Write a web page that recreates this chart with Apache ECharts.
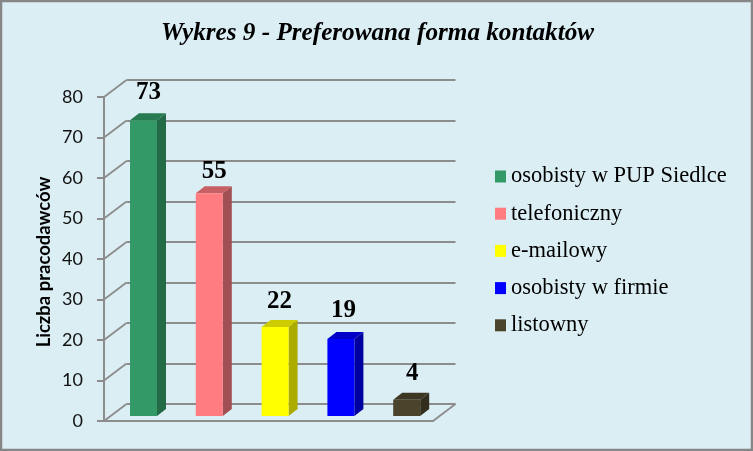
<!DOCTYPE html>
<html><head><meta charset="utf-8">
<style>html,body{margin:0;padding:0;background:#DBEEF4;}#c{width:753px;height:451px;}</style>
<script src="https://cdn.jsdelivr.net/npm/echarts@6/dist/echarts.min.js"></script>
</head><body><div id="c"></div>
<script>
const titleText = 'Wykres 9 - Preferowana forma kontaktów';
const axisName = 'Liczba pracodawców';
const categories = ['osobisty w PUP Siedlce','telefoniczny','e-mailowy','osobisty w firmie','listowny'];
const values = [73,55,22,19,4];
const frontColors = ['#339966','#FF7C80','#FFFF00','#0000FF','#4B432B'];
const sideColors  = ['#236B47','#A14F52','#ABAB00','#0000A0','#322D1C'];
const topColors   = ['#287A50','#C76064','#CCCC00','#0000C8','#3C3622'];
const yTicks = [0,10,20,30,40,50,60,70,80];
const labelShiftX = [2.5,2.5,2,0,3];
const labelShiftY = [-4,2,-1.5,-5,-3];

const GRID = '#8C8C8C';
const FRONT = {left:104, top:97, width:329, height:324};
const WALL = {dx:22.5, dy:-17};
const BAR = {dx:6.6, dy:-5, width:27, sideX:9, sideY:7};

const chart = echarts.init(document.getElementById('c'));

function barSeries(i){
  return {
    type:'custom', name:categories[i], xAxisIndex:0, yAxisIndex:0, z:5,
    itemStyle:{color:frontColors[i]},
    encode:{x:0,y:1},
    data:[[categories[i],values[i]]],
    renderItem(params,api){
      const t = api.coord([api.value(0),api.value(1)]);
      const b = api.coord([api.value(0),0]);
      const x0 = t[0]-BAR.width/2+BAR.dx, x1 = x0+BAR.width;
      const y0 = t[1]+BAR.dy, y1 = b[1]+BAR.dy;
      const sx = BAR.sideX, sy = BAR.sideY;
      return {type:'group',children:[
        {type:'polygon',shape:{points:[[x1,y0],[x1+sx,y0-sy],[x1+sx,y1-sy],[x1,y1]]},style:{fill:sideColors[i]}},
        {type:'polygon',shape:{points:[[x0,y0],[x0+sx,y0-sy],[x1+sx,y0-sy],[x1,y0]]},style:{fill:topColors[i]}},
        {type:'rect',shape:{x:x0,y:y0,width:BAR.width,height:y1-y0},style:{fill:frontColors[i]}},
        {type:'text',style:{x:(x0+x1+sx)/2-2+labelShiftX[i],y:y0-sy-4+labelShiftY[i],text:String(values[i]),align:'center',verticalAlign:'bottom',
          font:'bold 25px "Liberation Serif"',fill:'#000'}}
      ]};
    }
  };
}

const diagonals = {
  type:'custom', silent:true, xAxisIndex:0, yAxisIndex:0, z:2,
  data:yTicks.map(v=>[v]),
  encode:{y:0},
  renderItem(params,api){
    const p = api.coord([categories[0],api.value(0)]);
    const x = FRONT.left;
    return {type:'line',shape:{x1:x,y1:p[1],x2:x+WALL.dx,y2:p[1]+WALL.dy},style:{stroke:GRID,lineWidth:1.8}};
  }
};
const floorRight = {
  type:'custom', silent:true, xAxisIndex:0, yAxisIndex:0, z:2,
  data:[[0]], encode:{y:0},
  renderItem(params,api){
    const p = api.coord([categories[0],api.value(0)]);
    const x = FRONT.left+FRONT.width;
    return {type:'line',shape:{x1:x,y1:p[1],x2:x+WALL.dx,y2:p[1]+WALL.dy},style:{stroke:GRID,lineWidth:1.8}};
  }
};

chart.setOption({
  animation:false,
  backgroundColor:'#DBEEF4',
  title:{text:titleText,left:372.5,top:16,textAlign:'center',
    textStyle:{fontFamily:'Liberation Serif',fontStyle:'italic',fontWeight:'bold',fontSize:25.2,color:'#000'}},
  legend:{orient:'vertical',left:490,top:160,icon:'rect',itemWidth:11,itemHeight:12,itemGap:14.2,
    selectedMode:false,
    textStyle:{fontFamily:'Liberation Serif',fontSize:22.5,color:'#000',lineHeight:20},
    data:categories},
  grid:[
    {left:FRONT.left,top:FRONT.top,width:FRONT.width,height:FRONT.height},
    {left:FRONT.left+WALL.dx,top:FRONT.top+WALL.dy,width:FRONT.width,height:FRONT.height}
  ],
  xAxis:[
    {type:'category',gridIndex:0,data:categories,axisLabel:{show:false},axisTick:{show:false},
     axisLine:{lineStyle:{color:GRID,width:2}}},
    {type:'category',gridIndex:1,data:categories,axisLabel:{show:false},axisTick:{show:false},axisLine:{show:false}}
  ],
  yAxis:[
    {type:'value',gridIndex:0,min:0,max:80,interval:10,splitLine:{show:false},
     axisLine:{show:true,lineStyle:{color:GRID,width:2}},
     axisTick:{show:true,length:7,lineStyle:{color:GRID,width:2}},
     axisLabel:{fontFamily:'Lato',fontSize:18,color:'#111',margin:21},
     name:axisName,nameLocation:'middle',nameGap:50,
     nameTextStyle:{fontFamily:'Lato',fontWeight:'bold',fontSize:18.5,color:'#000',padding:[0,6,0,0]}},
    {type:'value',gridIndex:1,min:0,max:80,interval:10,axisLabel:{show:false},axisTick:{show:false},axisLine:{show:false},
     splitLine:{show:true,lineStyle:{color:GRID,width:2}}}
  ],
  graphic:[{type:'rect',silent:true,z:100,shape:{x:1,y:1,width:751,height:449},
    style:{fill:'none',stroke:'#868686',lineWidth:2.5}}],
  series:[diagonals,floorRight].concat(categories.map((c,i)=>barSeries(i)))
});
</script></body></html>
